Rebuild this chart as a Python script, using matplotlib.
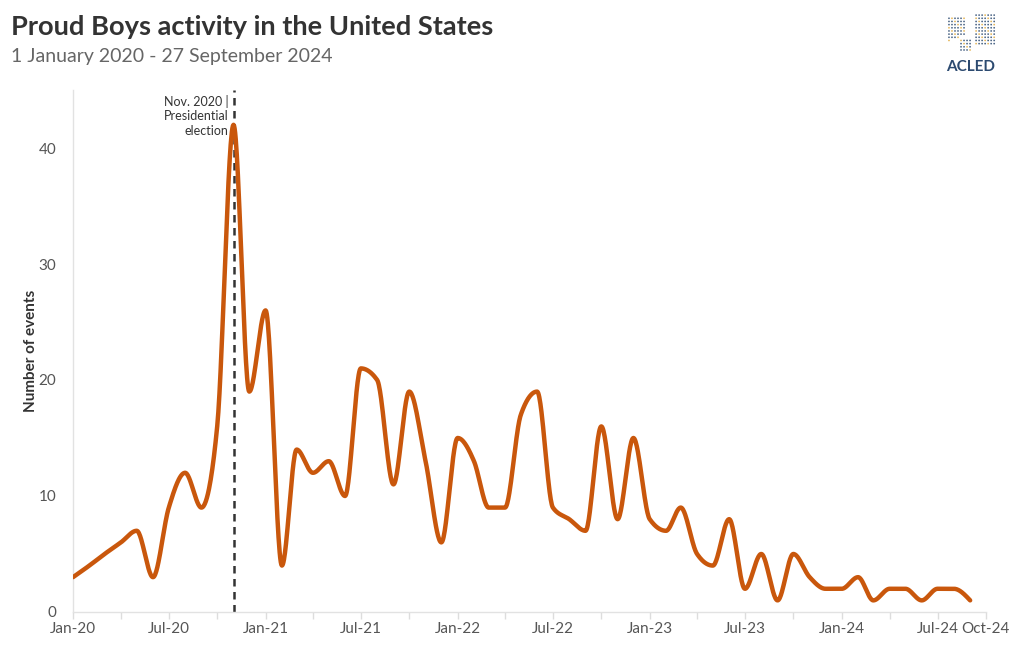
import numpy as np
import matplotlib
matplotlib.use("Agg")
import matplotlib.pyplot as plt
import matplotlib.dates as mdates
import datetime as dt

plt.rcParams['font.family'] = ['Lato', 'DejaVu Sans']

# monthly event counts, Jan 2020 - Sep 2024
months = [dt.date(2020 + (i // 12), i % 12 + 1, 1) for i in range(57)]
events = [3, 4, 5, 6, 7, 3, 9, 12, 9, 16, 42, 19,        # 2020
          26, 4, 14, 12, 13, 10, 21, 20, 11, 19, 13, 6,   # 2021
          15, 13, 9, 9, 17, 19, 9, 8, 7, 16, 8, 15,       # 2022
          8, 7, 9, 5, 4, 8, 2, 5, 1, 5, 3, 2,             # 2023
          2, 3, 1, 2, 2, 1, 2, 2, 1]                      # 2024

tick_dates = [dt.date(2020, 1, 1), dt.date(2020, 7, 1), dt.date(2021, 1, 1), dt.date(2021, 7, 1),
              dt.date(2022, 1, 1), dt.date(2022, 7, 1), dt.date(2023, 1, 1), dt.date(2023, 7, 1),
              dt.date(2024, 1, 1), dt.date(2024, 7, 1), dt.date(2024, 10, 1)]
tick_labels = ["Jan-20", "Jul-20", "Jan-21", "Jul-21", "Jan-22", "Jul-22",
               "Jan-23", "Jul-23", "Jan-24", "Jul-24", "Oct-24"]
election = dt.date(2020, 11, 1)

orange = "#c9570c"
grey = "#555555"


def monotone_x(x, y, n=30):
    # d3 curveMonotoneX style smoothing
    x = np.asarray(x, float)
    y = np.asarray(y, float)
    h = np.diff(x)
    s = np.diff(y) / h
    t = np.zeros(len(x))
    for i in range(1, len(x) - 1):
        p = (s[i - 1] * h[i] + s[i] * h[i - 1]) / (h[i - 1] + h[i])
        t[i] = (np.sign(s[i - 1]) + np.sign(s[i])) * min(abs(s[i - 1]), abs(s[i]), 0.5 * abs(p))
    t[0] = (3 * s[0] - t[1]) / 2
    t[-1] = (3 * s[-1] - t[-2]) / 2
    xs, ys = [], []
    u = np.linspace(0, 1, n)
    for i in range(len(x) - 1):
        dx = h[i] / 3
        px = [x[i], x[i] + dx, x[i + 1] - dx, x[i + 1]]
        py = [y[i], y[i] + dx * t[i], y[i + 1] - dx * t[i + 1], y[i + 1]]
        b = [(1 - u) ** 3, 3 * u * (1 - u) ** 2, 3 * u ** 2 * (1 - u), u ** 3]
        xs.append(sum(bb * pp for bb, pp in zip(b, px)))
        ys.append(sum(bb * pp for bb, pp in zip(b, py)))
    return np.concatenate(xs), np.concatenate(ys)


fig = plt.figure(figsize=(10.2, 6.5), dpi=100)
ax = fig.add_axes([0.0716, 0.0585, 0.895, 0.803])

xnum = mdates.date2num(months)
sx, sy = monotone_x(xnum, events)
ax.plot(sx, sy, color=orange, lw=3.2, solid_capstyle="round", zorder=3)

ax.axvline(mdates.date2num(election), color="#333333", lw=1.8, ls=(0, (3, 2.2)), zorder=2)
ax.text(mdates.date2num(election) - 10, 44.6, "Nov. 2020 |\nPresidential\nelection",
        ha="right", va="top", fontsize=9, color="#333333", linespacing=1.25)

ax.set_xlim(mdates.date2num(dt.date(2020, 1, 1)), mdates.date2num(dt.date(2024, 10, 1)))
ax.set_ylim(0, 45)
ax.set_xticks(mdates.date2num(tick_dates))
ax.set_xticklabels(tick_labels)
quarter = [dt.date(2020 + i // 2, 4 if i % 2 == 0 else 10, 1) for i in range(9)]
ax.set_xticks(mdates.date2num(quarter), minor=True)
ax.set_yticks([0, 10, 20, 30, 40])

ax.tick_params(axis="x", colors="#dddddd", labelcolor=grey, labelsize=11, length=5, width=1, pad=2)
ax.tick_params(axis="x", which="minor", colors="#dddddd", length=5, width=1)
ax.tick_params(axis="y", length=0, labelcolor=grey, labelsize=11, pad=12)

for side in ["top", "right"]:
    ax.spines[side].set_visible(False)
for side in ["left", "bottom"]:
    ax.spines[side].set_color("#e2e2e2")
    ax.spines[side].set_linewidth(1)

ax.set_ylabel("Number of events", fontsize=11, fontweight="bold", color="#333333")
ax.yaxis.set_label_coords(-0.038, 0.5)

fig.text(0.011, 0.958, "Proud Boys activity in the United States", fontsize=19.6,
         fontweight="bold", color="#333333", va="center")
fig.text(0.011, 0.913, "1 January 2020 - 27 September 2024", fontsize=14, color="#666666", va="center")

# logo: dotted globe + name
lax = fig.add_axes([0.928, 0.915, 0.052, 0.065])
lax.set_xlim(-1.1, 1.1)
lax.set_ylim(-1, 1)
lax.axis("off")
gx, gy = np.meshgrid(np.linspace(-1, 1, 17), np.linspace(-0.9, 0.9, 13))
gx, gy = gx.ravel(), gy.ravel()
land = ((gx > 0.1) & (gx < 0.95) & (gy > -0.6 + 0.4 * (gx - 0.5) ** 2)) | \
       ((gx < -0.3) & (gy > -0.2 + 0.5 * (gx + 0.7)) & (gy < 0.8)) | \
       ((gx > -0.55) & (gx < -0.1) & (gy < -0.2) & (gy > -0.9))
dot_cols = np.where((np.arange(len(gx)) % 4) == 0, "#e0a93a", "#2c4a70")
lax.scatter(gx[land], gy[land], s=1.6, c=dot_cols[land], lw=0, alpha=0.85)
fig.text(0.952, 0.897, "ACLED", fontsize=11, fontweight="bold", color="#2c4a70", ha="center", va="center")

fig.savefig("out.png", dpi=100)
